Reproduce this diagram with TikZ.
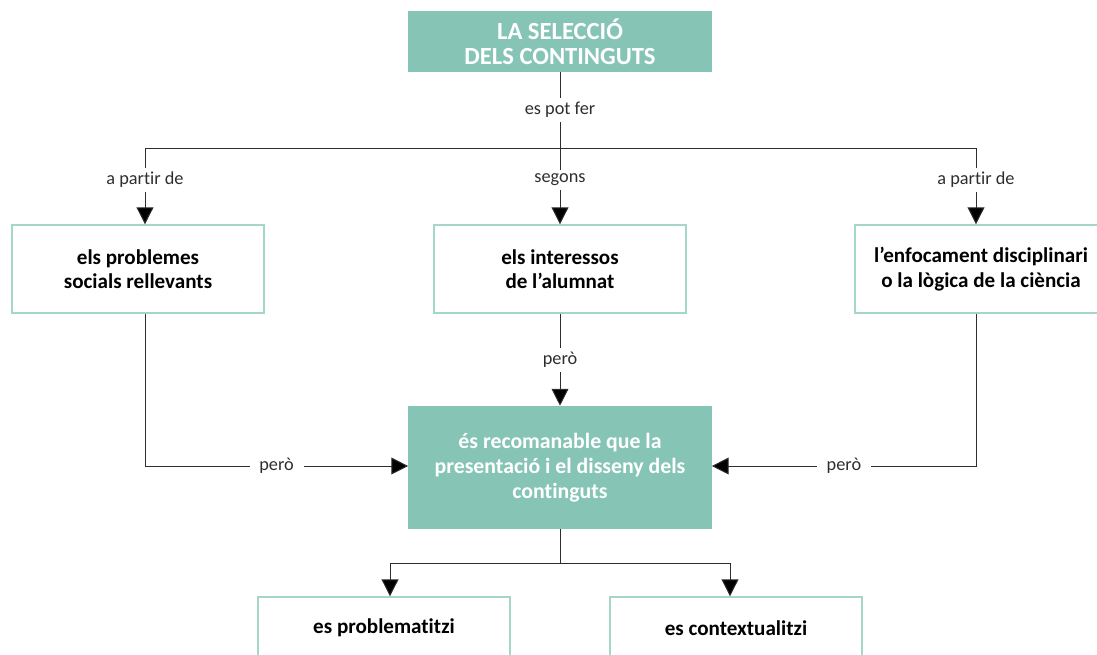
\documentclass[tikz,border=0pt]{standalone}
\usepackage{fontspec}
\setmainfont{Carlito}[Ligatures=NoCommon]
\usetikzlibrary{arrows.meta,calc}
\definecolor{verd}{HTML}{86C5B6}
\definecolor{vora}{HTML}{A5D6CA}
\definecolor{traç}{HTML}{2E2E2E}
\tikzset{
  plena/.style={fill=verd, text=white, font=\bfseries\fontsize{15.5}{18}\selectfont, align=center, inner sep=0pt},
  buida/.style={draw=vora, line width=1pt, fill=white, text=black, font=\bfseries\fontsize{15}{17.5}\selectfont, align=center, minimum width=6.3cm, minimum height=2.2cm, inner sep=0pt},
  etiq/.style={fill=white, text=traç, font=\fontsize{13}{15}\selectfont, inner xsep=7pt, inner ysep=3pt},
  linia/.style={draw=traç, line width=0.7pt},
  fletxa/.style={linia, -{Triangle[width=12pt,length=12pt,fill=black]}}
}
\begin{document}
\begin{tikzpicture}[x=0.025cm,y=-0.025cm]
\useasboundingbox (0,0) rectangle (1097,654);
\draw (560,41.5) node[plena, minimum width=7.575cm, minimum height=1.525cm, font=\bfseries\fontsize{17.5}{17.5}\selectfont] (sel) {LA SELECCIÓ\\DELS CONTINGUTS};
\draw (138,269) node[buida] (soc) {els problemes\\socials rellevants};
\draw (560,269) node[buida] (int) {els interessos\\de l’alumnat};
\draw (981,269) node[buida] (enf) {l’enfocament disciplinari\\o la lògica de la ciència};
\draw (560,467.5) node[plena, minimum width=7.575cm, minimum height=3.075cm] (rec) {és recomanable que la\\presentació i el disseny dels\\continguts};
\draw (384,628) node[buida, minimum height=1.55cm] (prob) {es problematitzi};
\draw (736,628) node[buida, minimum height=1.55cm] (cont) {es contextualitzi};
% punts de bifurcació
\coordinate (bif) at (560,148);
\coordinate (bifE) at (145,148);
\coordinate (bifD) at (976,148);
\coordinate (colzeE) at (145,466);
\coordinate (colzeD) at (976,466);
\coordinate (bifB) at (560,563);
\coordinate (bifBE) at (390,563);
\coordinate (bifBD) at (730,563);
\draw[linia] (sel) -- node[etiq] {es pot fer} (bif);
\draw[linia] (bifE) -- (bifD);
\draw[fletxa] (bifE) -- node[etiq, pos=0.42] {a partir de} (soc.north -| bifE);
\draw[fletxa] (bif) -- node[etiq, pos=0.42] {segons} (int);
\draw[fletxa] (bifD) -- node[etiq, pos=0.42] {a partir de} (enf.north -| bifD);
\draw[fletxa] (soc.south -| colzeE) |- node[etiq, pos=0.75] {però} (rec.west |- colzeE);
\draw[fletxa] (int) -- node[etiq] {però} (rec);
\draw[fletxa] (enf.south -| colzeD) |- node[etiq, pos=0.75] {però} (rec.east |- colzeD);
\draw[linia] (rec) -- (bifB);
\draw[linia] (bifBE) -- (bifBD);
\draw[fletxa] (bifBE) -- (prob.north -| bifBE);
\draw[fletxa] (bifBD) -- (cont.north -| bifBD);
\end{tikzpicture}
\end{document}
